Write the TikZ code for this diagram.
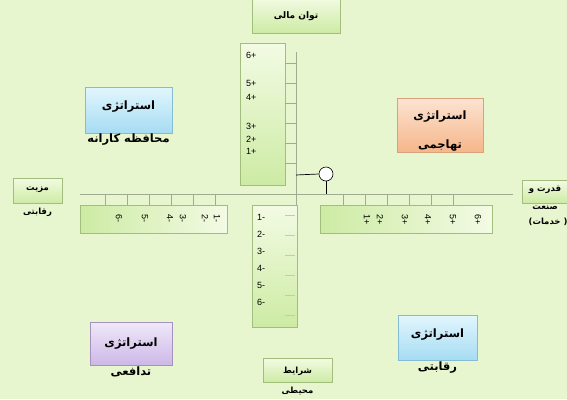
\documentclass[tikz,border=0pt]{standalone}
\usepackage{fontspec}
\setmainfont{Liberation Sans}
\newfontfamily\arabicfont[Script=Arabic]{DejaVu Sans}
\TeXXeTstate=1
\usetikzlibrary{shadows}

\definecolor{bgc}{HTML}{E8F6CF}
\definecolor{axisc}{HTML}{A0AC92}
\definecolor{greenline}{HTML}{A2BD7E}
\definecolor{greentop}{HTML}{F3FBE4}
\definecolor{greenbot}{HTML}{CDEBA4}
\definecolor{blueline}{HTML}{86BCD3}
\definecolor{bluetop}{HTML}{E2F6FD}
\definecolor{bluebot}{HTML}{A6DCF3}
\definecolor{orangeline}{HTML}{D9A27A}
\definecolor{orangetop}{HTML}{FCE4D2}
\definecolor{orangebot}{HTML}{F6B68A}
\definecolor{purpleline}{HTML}{A493BF}
\definecolor{purpletop}{HTML}{F0E8F8}
\definecolor{purplebot}{HTML}{CDB8E8}

\tikzstyle{panel}=[draw, line width=0.6pt, inner sep=0pt, drop shadow={opacity=0.25,shadow xshift=1.2pt,shadow yshift=-1.2pt}]
\tikzstyle{greenbox}=[panel, draw=greenline, top color=greentop, bottom color=greenbot]
\tikzstyle{bluebox}=[panel, draw=blueline, top color=bluetop, bottom color=bluebot]
\tikzstyle{orangebox}=[panel, draw=orangeline, top color=orangetop, bottom color=orangebot]
\tikzstyle{purplebox}=[panel, draw=purpleline, top color=purpletop, bottom color=purplebot]
\tikzstyle{scalebox}=[panel, draw=greenline, left color=greenbot, right color=greentop]
\tikzstyle{fa}=[font=\arabicfont\bfseries\fontsize{11.5}{13}\selectfont, inner sep=0pt]
\tikzstyle{fasmall}=[font=\arabicfont\bfseries\fontsize{8.5}{10}\selectfont, inner sep=0pt]
\tikzstyle{num}=[font=\fontsize{9}{10}\selectfont, inner sep=0pt]
\tikzstyle{axis}=[draw=axisc, line width=0.8pt]
\tikzstyle{tick}=[draw=axisc, line width=0.8pt]

\begin{document}
\begin{tikzpicture}[x=1pt,y=-1pt]
\useasboundingbox (0,0) rectangle (567,399);
\fill[bgc] (0,0) rectangle (567,399);

% axes
\coordinate (vtop) at (296,52);
\coordinate (vbot) at (296,328);
\coordinate (hleft) at (80,194);
\coordinate (hright) at (513,194);
\draw[axis] (vtop) -- (vbot);
\draw[axis] (hleft) -- (hright);

% scale boxes
\node[scalebox, top color=greentop, bottom color=greenbot, minimum width=45pt, minimum height=142pt] (up) at (262.5,114) {};
\node[scalebox, top color=greentop, bottom color=greenbot, minimum width=45pt, minimum height=122pt] (down) at (274.5,266) {};
\node[scalebox, minimum width=147pt, minimum height=28pt] (left) at (153.5,219) {};
\node[scalebox, minimum width=172pt, minimum height=28pt] (right) at (406,219) {};

% ticks
\foreach \y in {63,83,...,163} \draw[tick] (285,\y) -- (296,\y);
\foreach \y in {215,235,...,315} \draw[tick, draw=gray!45] (285,\y) -- (295,\y);
\foreach \x in {105,127,...,215} \draw[tick] (\x,194) -- (\x,205);
\foreach \x in {343,365,...,453} \draw[tick] (\x,194) -- (\x,205);

% scale labels
\node[num, anchor=west] (u6) at (246,55) {6+};
\node[num, anchor=west] (u5) at (246,83) {5+};
\node[num, anchor=west] (u4) at (246,97) {4+};
\node[num, anchor=west] (u3) at (246,126) {3+};
\node[num, anchor=west] (u2) at (246,139) {2+};
\node[num, anchor=west] (u1) at (246,151) {1+};

\node[num, anchor=west] (d1) at (257,217) {1-};
\node[num, anchor=west] (d2) at (257,234) {2-};
\node[num, anchor=west] (d3) at (257,251) {3-};
\node[num, anchor=west] (d4) at (257,268) {4-};
\node[num, anchor=west] (d5) at (257,285) {5-};
\node[num, anchor=west] (d6) at (257,302) {6-};

\node[num, rotate=-90] (l6) at (119,218) {6-};
\node[num, rotate=-90] (l5) at (145,218) {5-};
\node[num, rotate=-90] (l4) at (170,218) {4-};
\node[num, rotate=-90] (l3) at (183,218) {3-};
\node[num, rotate=-90] (l2) at (205,218) {2-};
\node[num, rotate=-90] (l1) at (217,218) {1-};

\node[num, rotate=-90] (r1) at (367,220) {1+};
\node[num, rotate=-90] (r2) at (380,220) {2+};
\node[num, rotate=-90] (r3) at (405,220) {3+};
\node[num, rotate=-90] (r4) at (428,220) {4+};
\node[num, rotate=-90] (r5) at (453,220) {5+};
\node[num, rotate=-90] (r6) at (478,220) {6+};

% knob
\coordinate (arm) at (296,175);
\node[circle, draw, line width=0.6pt, fill=white, minimum size=14pt, inner sep=0pt] (knob) at (326,174) {};
\draw[line width=0.7pt] (arm) -- (knob.west);
\draw[line width=0.7pt] (knob.south) -- (knob |- hleft);

% axis ends
\node[greenbox, minimum width=88pt, minimum height=36pt] (top) at (296,15) {};
\node[fasmall, font=\arabicfont\bfseries\fontsize{9}{10}\selectfont] (topt) at (296,16) {\beginR توان مالی\endR};

\node[greenbox, minimum width=69pt, minimum height=24pt] (bot) at (297.5,370) {};
\node[fasmall] (bott) at (297.5,371) {\beginR شرایط\endR};
\node[fasmall] (bott2) at (297.5,391) {\beginR محیطی\endR};

\node[greenbox, minimum width=49pt, minimum height=25pt] (west) at (37.5,190.5) {};
\node[fasmall] (westt) at (37.5,190) {\beginR مزیت\endR};
\node[fasmall] (westt2) at (37.5,212) {\beginR رقابتی\endR};

\node[greenbox, minimum width=49pt, minimum height=23pt] (east) at (547,191.5) {};
\node[fasmall] (eastt) at (545,190) {\beginR قدرت و\endR};
\node[fasmall] (eastt2) at (545,207) {\beginR صنعت\endR};
\node[fasmall] (eastt3) at (548,222) {\beginR ( خدمات)\endR};

% strategies
\node[bluebox, minimum width=87pt, minimum height=46pt] (cons) at (128.5,110) {};
\node[fa] (const) at (128.5,107) {\beginR استراتژی\endR};
\node[fa] (const2) at (128.5,140) {\beginR محافظه کارانه\endR};

\node[orangebox, minimum width=86pt, minimum height=54pt] (aggr) at (440,125) {};
\node[fa] (aggrt) at (440,117) {\beginR استراتژی\endR};
\node[fa] (aggrt2) at (440,146) {\beginR تهاجمی\endR};

\node[purplebox, minimum width=82pt, minimum height=43pt] (defn) at (131,343.5) {};
\node[fa] (defnt) at (131,344) {\beginR استراتژی\endR};
\node[fa] (defnt2) at (131,372) {\beginR تدافعی\endR};

\node[bluebox, minimum width=79pt, minimum height=45pt] (comp) at (437.5,337.5) {};
\node[fa] (compt) at (437.5,335) {\beginR استراتژی\endR};
\node[fa] (compt2) at (437.5,368) {\beginR رقابتی\endR};
\end{tikzpicture}
\end{document}
